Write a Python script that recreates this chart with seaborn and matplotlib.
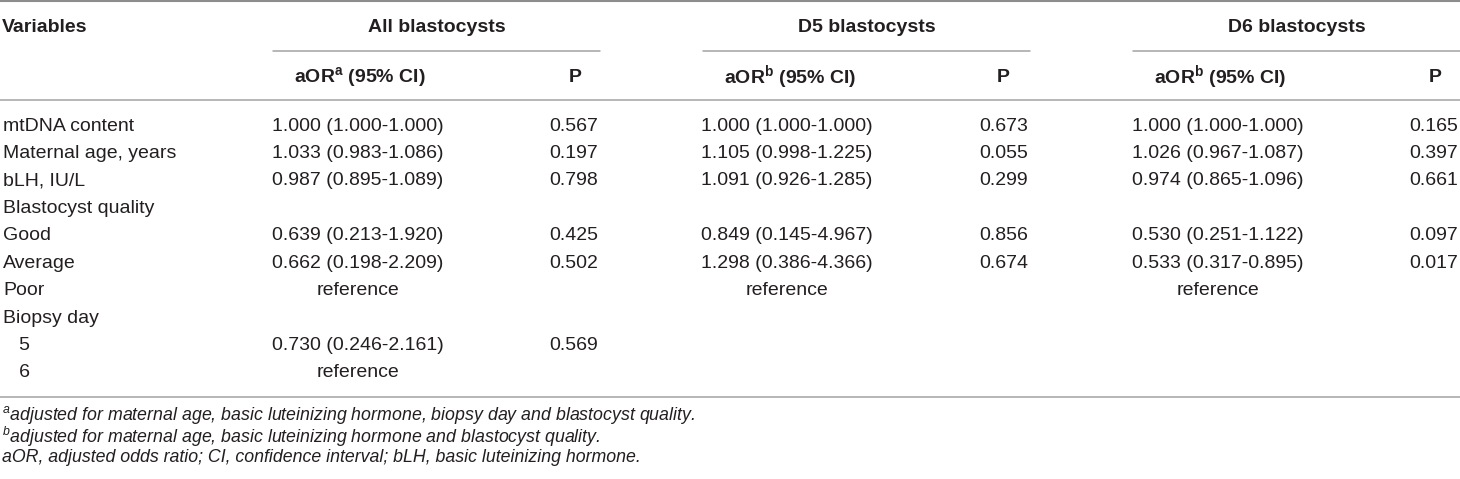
import matplotlib
matplotlib.use("Agg")
import matplotlib.pyplot as plt
import seaborn as sns
import pandas as pd

# -----------------------------
# table content
# -----------------------------
variables = ["mtDNA content", "Maternal age, years", "bLH, IU/L", "Blastocyst quality",
             "Good", "Average", "Poor", "Biopsy day", "   5", "   6"]
all_aor = ["1.000 (1.000-1.000)", "1.033 (0.983-1.086)", "0.987 (0.895-1.089)", "",
           "0.639 (0.213-1.920)", "0.662 (0.198-2.209)", "reference", "",
           "0.730 (0.246-2.161)", "reference"]
all_p = ["0.567", "0.197", "0.798", "", "0.425", "0.502", "", "", "0.569", ""]
d5_aor = ["1.000 (1.000-1.000)", "1.105 (0.998-1.225)", "1.091 (0.926-1.285)", "",
          "0.849 (0.145-4.967)", "1.298 (0.386-4.366)", "reference", "", "", ""]
d5_p = ["0.673", "0.055", "0.299", "", "0.856", "0.674", "", "", "", ""]
d6_aor = ["1.000 (1.000-1.000)", "1.026 (0.967-1.087)", "0.974 (0.865-1.096)", "",
          "0.530 (0.251-1.122)", "0.533 (0.317-0.895)", "reference", "", "", ""]
d6_p = ["0.165", "0.397", "0.661", "", "0.097", "0.017", "", "", "", ""]

groups = ["All blastocysts", "D5 blastocysts", "D6 blastocysts"]
sub_headers = [r"aOR$^{\mathbf{a}}$ (95% CI)", "P",
               r"aOR$^{\mathbf{b}}$ (95% CI)", "P",
               r"aOR$^{\mathbf{b}}$ (95% CI)", "P"]
footnotes = [r"$^{\mathit{a}}$adjusted for maternal age, basic luteinizing hormone, biopsy day and blastocyst quality.",
             r"$^{\mathit{b}}$adjusted for maternal age, basic luteinizing hormone and blastocyst quality.",
             "aOR, adjusted odds ratio; CI, confidence interval; bLH, basic luteinizing hormone."]

table = pd.DataFrame({
    "Variables": variables,
    "all_aor": all_aor, "all_p": all_p,
    "d5_aor": d5_aor, "d5_p": d5_p,
    "d6_aor": d6_aor, "d6_p": d6_p,
})

# -----------------------------
# layout (pixel-like units)
# -----------------------------
sns.set_theme(style="white")
plt.rcParams["font.family"] = ["Liberation Sans", "DejaVu Sans"]
plt.rcParams["mathtext.fontset"] = "custom"
plt.rcParams["mathtext.rm"] = "Liberation Sans"
plt.rcParams["mathtext.bf"] = "Liberation Sans:bold"
plt.rcParams["mathtext.it"] = "Liberation Sans:italic"

fig = plt.figure(figsize=(14.6, 4.79), dpi=100)
ax = fig.add_axes([0, 0, 1, 1])
ax.set_xlim(0, 1460)
ax.set_ylim(479, 0)
ax.axis("off")

fs = 14
fs_note = 12.8
text_col = "#231f20"
line_col = "#a3a3a3"

col_x = {"all_aor": 358, "all_p": 574, "d5_aor": 787, "d5_p": 1004,
         "d6_aor": 1218, "d6_p": 1434}
group_x = [(273, 600), (703, 1030), (1133, 1460)]
head_x = [360, 575, 790, 1003, 1220, 1435]

row_y0, row_dy = 126, 27.44

# rules
ax.plot([0, 1460], [1, 1], color="#8c8c8c", lw=1.5)
ax.plot([0, 1460], [100, 100], color=line_col, lw=1.1)
ax.plot([0, 1460], [397, 397], color=line_col, lw=1.1)
for x0, x1 in group_x:
    ax.plot([x0, x1], [51, 51], color=line_col, lw=1.1)

# headers
ax.text(2, 27, "Variables", fontsize=fs, fontweight="bold", color=text_col, va="center")
for (x0, x1), g in zip(group_x, groups):
    ax.text((x0 + x1) / 2, 27, g, fontsize=fs, fontweight="bold", color=text_col,
            ha="center", va="center")
for x, h in zip(head_x, sub_headers):
    ax.text(x, 77, h, fontsize=fs, fontweight="bold", color=text_col,
            ha="center", va="center")

# body
for i, row in table.iterrows():
    y = row_y0 + i * row_dy
    ax.text(3, y, row["Variables"], fontsize=fs, color=text_col, va="center")
    for col, x in col_x.items():
        if row[col]:
            ax.text(x, y, row[col], fontsize=fs, color=text_col, ha="center", va="center")

# footnotes
for j, note in enumerate(footnotes):
    ax.text(2, 415 + j * 21.5, note, fontsize=fs_note, style="italic",
            color=text_col, va="center")

fig.savefig("out.png", dpi=100, facecolor="white")
